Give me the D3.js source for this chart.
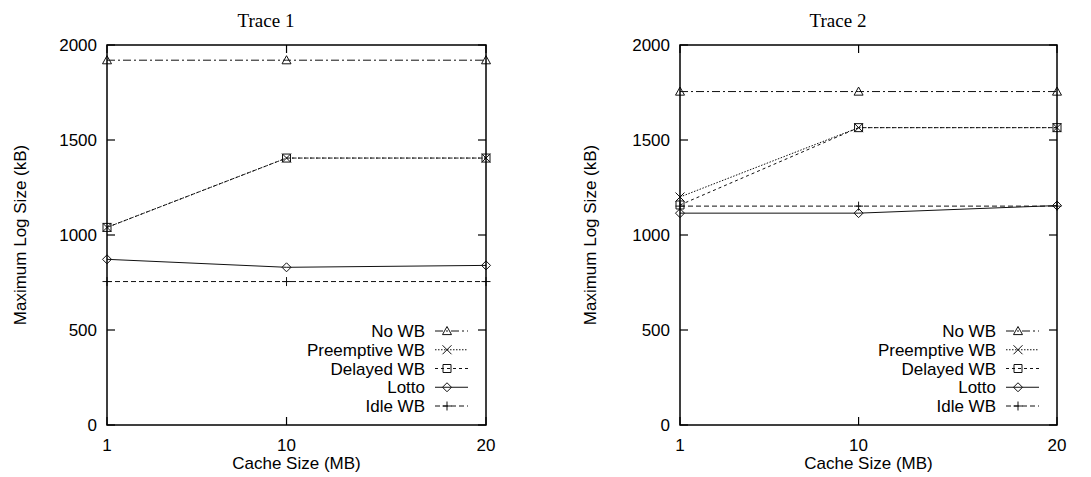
<!DOCTYPE html>
<html>
<head>
<meta charset="utf-8">
<script src="https://cdn.jsdelivr.net/npm/d3@7"></script>
<style>
  body { margin: 0; background: #fff; }
  text { fill: #000; }
  .tick-label, .axis-label, .legend-label { font-family: "Liberation Sans", Arial, sans-serif; font-size: 17px; }
  .chart-title { font-family: "Liberation Serif", "DejaVu Serif", serif; font-size: 19px; }
</style>
</head>
<body>
<div id="chart"></div>
<script>
// Data
const cacheSizes = [1, 10, 20];
const yTicks = [0, 500, 1000, 1500, 2000];
const seriesNames = ["No WB", "Preemptive WB", "Delayed WB", "Lotto", "Idle WB"];

const trace1NoWB       = [1920, 1920, 1920];
const trace1Preemptive = [1040, 1405, 1405];
const trace1Delayed    = [1040, 1405, 1405];
const trace1Lotto      = [872, 830, 840];
const trace1Idle       = [755, 755, 755];

const trace2NoWB       = [1755, 1755, 1755];
const trace2Preemptive = [1200, 1565, 1565];
const trace2Delayed    = [1158, 1565, 1565];
const trace2Lotto      = [1115, 1115, 1155];
const trace2Idle       = [1152, 1152, 1152];

const width = 1091;
const height = 477;

// line style + point type per series (gnuplot look)
const styles = [
  { dash: "8,3,2,3", symbol: "triangle" },
  { dash: "1.5,1.5", symbol: "cross" },
  { dash: "3,3", symbol: "square" },
  { dash: null, symbol: "diamond" },
  { dash: "5,3", symbol: "plus" }
];

const panels = [
  { title: "Trace 1", left: 107, right: 486, titleX: 266, labelX: 26,
    series: [trace1NoWB, trace1Preemptive, trace1Delayed, trace1Lotto, trace1Idle] },
  { title: "Trace 2", left: 680, right: 1057, titleX: 838, labelX: 596,
    series: [trace2NoWB, trace2Preemptive, trace2Delayed, trace2Lotto, trace2Idle] }
];

const plotTop = 45;
const plotBottom = 425;

const svg = d3.select("#chart").append("svg")
  .attr("width", width)
  .attr("height", height);

function drawMarker(g, type, x, y) {
  const s = 4.5;
  let d;
  if (type === "triangle") {
    d = `M${x},${y - s} L${x + s},${y + s * 0.8} L${x - s},${y + s * 0.8} Z`;
  } else if (type === "cross") {
    d = `M${x - s},${y - s} L${x + s},${y + s} M${x - s},${y + s} L${x + s},${y - s}`;
  } else if (type === "square") {
    d = `M${x - 4},${y - 4} L${x + 4},${y - 4} L${x + 4},${y + 4} L${x - 4},${y + 4} Z`;
  } else if (type === "diamond") {
    d = `M${x},${y - s} L${x + s},${y} L${x},${y + s} L${x - s},${y} Z`;
  } else {
    d = `M${x - s},${y} L${x + s},${y} M${x},${y - s} L${x},${y + s}`;
  }
  g.append("path")
    .attr("d", d)
    .attr("fill", "none")
    .attr("stroke", "#111")
    .attr("stroke-width", 1);
}

function drawPanel(p) {
  const g = svg.append("g");

  const xScale = d3.scaleLinear()
    .domain([1, 20])
    .range([p.left, p.right]);

  const yScale = d3.scaleLinear()
    .domain([0, 2000])
    .range([plotBottom, plotTop]);

  // title
  g.append("text")
    .attr("class", "chart-title")
    .attr("x", p.titleX)
    .attr("y", 27)
    .attr("text-anchor", "middle")
    .text(p.title);

  // inward, mirrored ticks
  const tickLen = 8;
  yTicks.forEach(t => {
    const y = yScale(t);
    g.append("line").attr("x1", p.left).attr("x2", p.left + tickLen)
      .attr("y1", y).attr("y2", y).attr("stroke", "#000").attr("stroke-width", 1.2);
    g.append("line").attr("x1", p.right).attr("x2", p.right - tickLen)
      .attr("y1", y).attr("y2", y).attr("stroke", "#000").attr("stroke-width", 1.2);
    g.append("text")
      .attr("class", "tick-label")
      .attr("x", p.left - 10)
      .attr("y", y + 6)
      .attr("text-anchor", "end")
      .text(t);
  });

  cacheSizes.forEach(c => {
    const x = xScale(c);
    g.append("line").attr("x1", x).attr("x2", x)
      .attr("y1", plotBottom).attr("y2", plotBottom - tickLen).attr("stroke", "#000").attr("stroke-width", 1.2);
    g.append("line").attr("x1", x).attr("x2", x)
      .attr("y1", plotTop).attr("y2", plotTop + tickLen).attr("stroke", "#000").attr("stroke-width", 1.2);
    g.append("text")
      .attr("class", "tick-label")
      .attr("x", x)
      .attr("y", 451)
      .attr("text-anchor", "middle")
      .text(c);
  });

  // axis labels
  g.append("text")
    .attr("class", "axis-label")
    .attr("x", (p.left + p.right) / 2)
    .attr("y", 469)
    .attr("text-anchor", "middle")
    .text("Cache Size (MB)");

  g.append("text")
    .attr("class", "axis-label")
    .attr("transform", `translate(${p.labelX}, ${(plotTop + plotBottom) / 2}) rotate(-90)`)
    .attr("text-anchor", "middle")
    .text("Maximum Log Size (kB)");

  // series
  const line = d3.line()
    .x((d, i) => xScale(cacheSizes[i]))
    .y(d => yScale(d));

  p.series.forEach((values, k) => {
    g.append("path")
      .datum(values)
      .attr("d", line)
      .attr("fill", "none")
      .attr("stroke", "#111")
      .attr("stroke-width", 1)
      .attr("stroke-dasharray", styles[k].dash);
    values.forEach((v, i) => drawMarker(g, styles[k].symbol, xScale(cacheSizes[i]), yScale(v)));
  });

  // legend
  const legendY0 = 331;
  const rowH = 18.75;
  seriesNames.forEach((name, k) => {
    const y = legendY0 + k * rowH;
    g.append("text")
      .attr("class", "legend-label")
      .attr("x", p.right - 61)
      .attr("y", y + 6)
      .attr("text-anchor", "end")
      .text(name);
    g.append("line")
      .attr("x1", p.right - 51).attr("x2", p.right - 18)
      .attr("y1", y).attr("y2", y)
      .attr("stroke", "#111")
      .attr("stroke-width", 1)
      .attr("stroke-dasharray", styles[k].dash);
    drawMarker(g, styles[k].symbol, p.right - 39, y);
  });

  // border
  g.append("rect")
    .attr("x", p.left)
    .attr("y", plotTop)
    .attr("width", p.right - p.left)
    .attr("height", plotBottom - plotTop)
    .attr("fill", "none")
    .attr("stroke", "#000")
    .attr("stroke-width", 1.5);
}

panels.forEach(drawPanel);
</script>
</body>
</html>
